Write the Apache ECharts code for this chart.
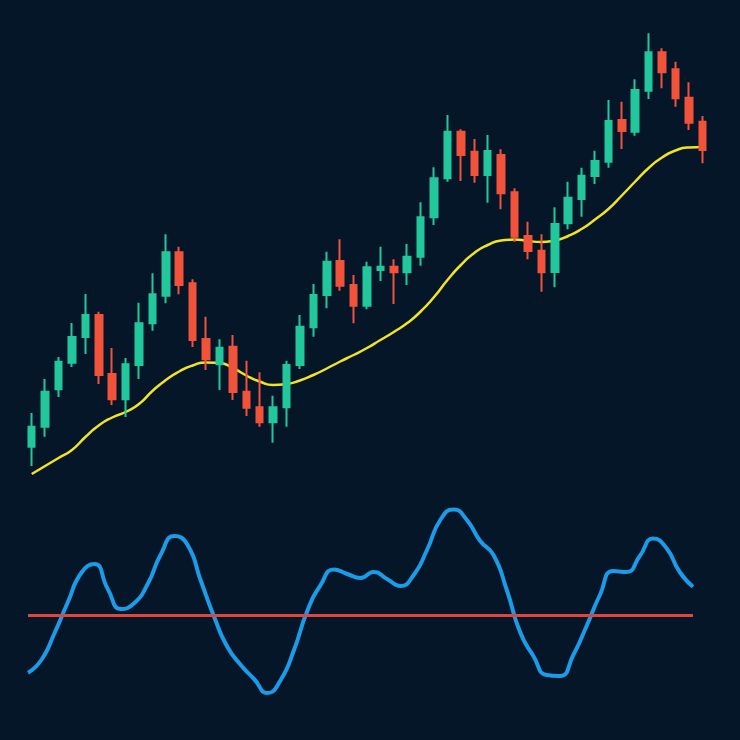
<!DOCTYPE html>
<html>
<head>
<meta charset="utf-8">
<script src="https://cdn.jsdelivr.net/npm/echarts@6/dist/echarts.min.js"></script>
<style>
html,body{margin:0;padding:0;background:#041628;}
#chart{width:740px;height:740px;}
</style>
</head>
<body>
<div id="chart"></div>
<script>
// [open, close, low, high]
const candles = [
[15.33,17.33,13.4,18.7],[17.33,20.83,16.33,22.1],[21.07,23.83,20.3,24.3],[23.73,26.3,23.3,27.7],[26.3,28.5,24.6,30.6],
[28.5,22.5,21.6,28.83],[22.6,20.07,19.5,25.2],[20.07,23.57,18.3,24.2],[23.5,27.67,22.1,29.73],[27.67,30.57,26.93,32.67],
[30.43,34.77,29.67,36.57],[34.77,31.5,30.57,35.33],[31.67,26.0,25.3,32.07],[26.1,24.07,23.0,28.33],[23.57,25.23,21.0,26.07],
[25.33,20.8,20.0,26.5],[20.83,19.23,18.4,23.93],[19.27,17.77,17.33,22.77],[17.77,19.27,15.73,20.43],[19.27,23.5,17.33,23.93],
[23.5,27.33,23.1,28.5],[27.27,30.5,26.33,31.6],[30.5,33.83,29.17,34.83],[33.9,31.43,30.93,36.07],[31.5,29.43,27.67,32.5],
[29.43,33.27,29.07,33.83],[33.0,33.33,31.9,35.33],[33.33,32.77,29.6,34.07],[32.77,34.33,31.5,35.6],[34.33,38.27,33.43,39.77],
[38.27,42.17,37.5,43.27],[42.17,46.83,41.83,48.5],[46.83,44.5,41.9,47.07],[44.83,42.5,41.73,46.1],[42.5,44.9,39.73,46.5],
[44.5,40.67,39.07,45.07],[40.77,36.33,35.83,41.17],[36.4,34.9,34.07,37.83],[34.93,32.77,30.83,36.57],[32.8,37.6,31.27,39.27],
[37.67,40.23,37.07,41.83],[40.1,42.43,38.33,43.23],[42.4,43.9,41.6,44.93],[43.83,47.9,43.23,50.0],[48.0,46.9,45.1,49.83],
[46.83,51.0,46.43,52.07],[50.93,54.77,50.1,56.67],[54.77,52.77,51.17,55.17],[53.07,50.17,49.33,53.83],[50.23,47.73,47.0,51.77],
[47.83,45.0,43.67,48.4]
];
const maLine = [12.6,13.4,14.2,15.0,16.3,17.45,18.25,18.8,19.6,20.9,22.0,22.85,23.45,23.75,23.7,23.2,22.45,21.85,21.5,21.6,
21.95,22.5,23.15,23.85,24.5,25.2,26.0,26.8,27.7,28.85,30.3,32.0,33.5,34.7,35.5,35.95,36.05,35.9,35.8,35.95,
36.4,37.1,38.05,39.1,40.45,41.85,43.2,44.25,44.95,45.25,45.3];
const oscillator = [-0.577,-0.45,-0.18,0.13,0.42,0.51,0.26,0.06,0.12,0.31,0.61,0.79,0.70,0.34,-0.02,-0.32,-0.5,-0.64,-0.78,-0.65,
-0.35,0.04,0.30,0.455,0.41,0.37,0.43,0.36,0.29,0.40,0.65,0.95,1.055,0.95,0.74,0.60,0.25,-0.17,-0.41,-0.6,
-0.61,-0.40,-0.11,0.20,0.44,0.43,0.59,0.765,0.67,0.43,0.283];
const zeroLevel = 0;
const categories = candles.map((_, i) => String(i + 1));

const chart = echarts.init(document.getElementById('chart'), null, {renderer: 'canvas'});
chart.setOption({
  backgroundColor: '#041628',
  animation: false,
  grid: [
    {left: 25, right: 31, top: 0, height: 480},
    {left: 28, right: 47, top: 495, height: 220}
  ],
  xAxis: [
    {type: 'category', gridIndex: 0, data: categories, boundaryGap: true, show: false},
    {type: 'category', gridIndex: 1, data: categories, boundaryGap: false, show: false}
  ],
  yAxis: [
    {type: 'value', gridIndex: 0, min: 12, max: 60, show: false},
    {type: 'value', gridIndex: 1, min: -1, max: 1.2, show: false}
  ],
  series: [
    {
      type: 'line', xAxisIndex: 0, yAxisIndex: 0, data: maLine, smooth: 0.6,
      showSymbol: false, z: 1,
      lineStyle: {color: '#f2e424', width: 2.5}
    },
    {
      type: 'candlestick', xAxisIndex: 0, yAxisIndex: 0, data: candles, barWidth: 7, z: 2,
      itemStyle: {color: '#22c79c', color0: '#f1533a', borderColor: '#22c79c', borderColor0: '#f1533a', borderWidth: 2}
    },
    {
      type: 'line', xAxisIndex: 1, yAxisIndex: 1, data: oscillator, smooth: 0.55,
      showSymbol: false, z: 3,
      lineStyle: {color: '#1b9ce8', width: 4},
      markLine: {
        silent: true, symbol: 'none', label: {show: false},
        lineStyle: {color: '#e2463a', width: 3, type: 'solid'},
        data: [{yAxis: zeroLevel}]
      }
    }
  ]
});
</script>
</body>
</html>
